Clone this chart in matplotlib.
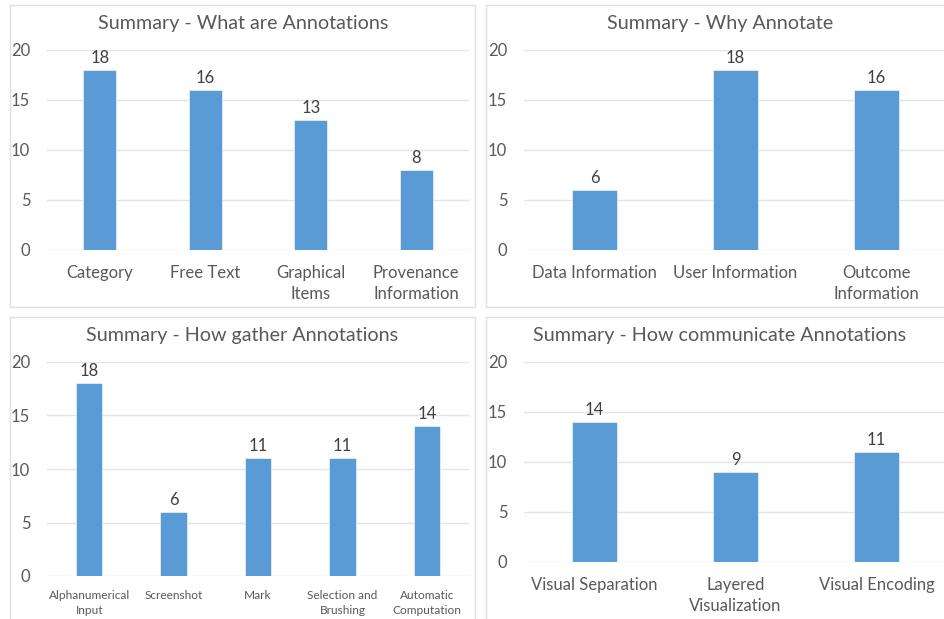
import matplotlib.pyplot as plt
from matplotlib.patches import Rectangle

plt.rcParams['font.family'] = ['Lato', 'DejaVu Sans']

W, H = 944, 619
BAR = '#5B9BD5'
TXT = '#595959'
GRID = '#E4E4E4'

# data
what_cats = ['Category', 'Free Text', 'Graphical\nItems', 'Provenance\nInformation']
what_vals = [18, 16, 13, 8]

why_cats = ['Data Information', 'User Information', 'Outcome\nInformation']
why_vals = [6, 18, 16]

gather_cats = ['Alphanumerical\nInput', 'Screenshot', 'Mark', 'Selection and\nBrushing',
               'Automatic\nComputation']
gather_vals = [18, 6, 11, 11, 14]

comm_cats = ['Visual Separation', 'Layered\nVisualization', 'Visual Encoding']
comm_vals = [14, 9, 11]

fig = plt.figure(figsize=(W / 100, H / 100), dpi=100)


def px_axes(x0, x1, ytop, ybot):
    return fig.add_axes([x0 / W, 1 - ybot / H, (x1 - x0) / W, (ybot - ytop) / H])


def panel_box(x0, y0, x1, y1):
    fig.patches.append(Rectangle((x0 / W, 1 - y1 / H), (x1 - x0) / W, (y1 - y0) / H,
                                 transform=fig.transFigure, fill=False,
                                 edgecolor='#E0E0E0', lw=1.0))


def draw(ax, cats, vals, title, tick_fs, title_xy, xpad=11, lsp=1.4):
    n = len(cats)
    xs = range(n)
    ax.set_xlim(-0.5, n - 0.5)
    ax.set_ylim(0, 20)
    bars = ax.bar(xs, vals, width=0.315, color=BAR, edgecolor='white', lw=0.4, zorder=3)
    ax.bar_label(bars, padding=3, fontsize=12, color='#404040')
    ax.set_yticks([0, 5, 10, 15, 20])
    ax.set_xticks(list(xs))
    ax.set_xticklabels(cats, fontsize=tick_fs, color=TXT, linespacing=lsp)
    ax.tick_params(axis='y', labelsize=12, colors=TXT, length=0, pad=12)
    ax.tick_params(axis='x', length=0, pad=xpad)
    ax.grid(axis='y', color=GRID, lw=1.0, zorder=0)
    for s in ax.spines.values():
        s.set_visible(False)
    ax.set_facecolor('none')
    fig.text(title_xy[0] / W, 1 - title_xy[1] / H, title, ha='center', va='center',
             fontsize=14.2, color=TXT)


panel_box(10, 5, 475, 307)
panel_box(486, 5, 960, 307)
panel_box(10, 317, 475, 630)
panel_box(486, 317, 960, 630)

ax1 = px_axes(47, 469, 50, 250)
draw(ax1, what_cats, what_vals, 'Summary - What are Annotations', 12, (243, 23))

ax2 = px_axes(524, 947, 50, 250)
draw(ax2, why_cats, why_vals, 'Summary - Why Annotate', 12, (720, 23))

ax3 = px_axes(47, 469, 362, 576)
draw(ax3, gather_cats, gather_vals, 'Summary - How gather Annotations', 8.6, (242, 336),
     xpad=10, lsp=1.5)

ax4 = px_axes(524, 947, 362, 562)
draw(ax4, comm_cats, comm_vals, 'Summary - How communicate Annotations', 12, (720, 336))

fig.savefig('out.png', dpi=100)
